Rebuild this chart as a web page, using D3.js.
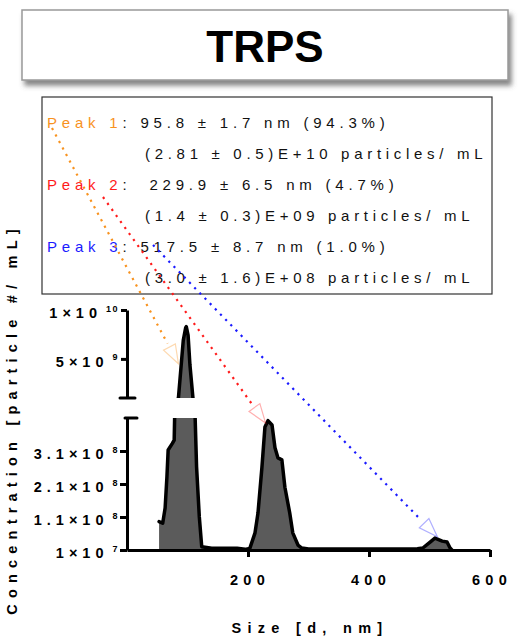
<!DOCTYPE html>
<meta charset="utf-8">
<head>
<style>
  body { margin: 0; background: #fff; }
  text { font-family: "Liberation Sans", Arial, sans-serif; white-space: pre; }
  .bold { font-weight: bold; }
</style>
<script src="https://d3js.org/d3.v7.min.js"></script>
</head>
<div id="chart"></div>
<script>

// size distribution (size in nm, concentration in particles/mL)
var sizeNm = [53, 59, 63, 66, 68, 75, 78, 85, 93, 97, 98, 101, 104, 109, 112, 115, 119.5, 123.5,
              140, 182, 195, 203, 211.6, 216.5, 223, 228, 233, 239.7, 244.6, 249.6, 256, 261, 269,
              274, 282.6, 289, 300, 480, 489, 501, 509, 521, 529, 534, 537];
var concentration = [9.6e7, 9.1e7, 1.37e8, 2.32e8, 3.13e8, 3.33e8, 3.43e8, 1.0e9, 6.9e9, 8.2e9, 8.3e9,
              7.4e9, 4.4e9, 1.0e9, 4.5e8, 2.62e8, 1.11e8, 2.0e7,
              1.5e7, 1.5e7, 1.2e7, 1.5e7, 6.2e7, 1.22e8, 2.6e8, 3.83e8, 4.02e8, 3.89e8, 3.2e8, 2.89e8,
              2.83e8, 2.0e8, 1.22e8, 6.2e7, 2.5e7, 1.6e7, 1.3e7, 1.4e7, 1.6e7, 3.4e7, 4.6e7, 3.7e7,
              3.4e7, 1.6e7, 1e7];

// broken y axis
var upperDomain = [1e9, 1e10];
var lowerDomain = [1e7, 4.1e8];
var upperTicks = [5e9, 1e10];
var upperTickMantissa = ["5×10", "1×10"];
var upperTickExp = ["9", "10"];
var lowerTicks = [1e7, 1.1e8, 2.1e8, 3.1e8];
var lowerTickMantissa = ["1×10", "1.1×10", "2.1×10", "3.1×10"];
var lowerTickExp = ["7", "8", "8", "8"];
var xTicks = [200, 400, 600];

// legend
var peakNames = ["Peak 1", "Peak 2", "Peak 3"];
var peakColors = ["#f8921e", "#ff1a1a", "#1a1aff"];
var peakSizeText = [": 95.8 ± 1.7 nm (94.3%)", ":  229.9 ± 6.5 nm (4.7%)", ": 517.5 ± 8.7 nm (1.0%)"];
var peakConcText = ["(2.81 ± 0.5)E+10 particles/ mL", "(1.4 ± 0.3)E+09 particles/ mL", "(3.0 ± 1.6)E+08 particles/ mL"];
// where each arrow points (size nm, concentration)
var arrowSize = [85, 229, 513];
var arrowConc = [4.5e9, 3.95e8, 5e7];

var data = sizeNm.map(function(s, i) { return {s: s, c: concentration[i]}; });

var svg = d3.select("#chart").append("svg")
    .attr("width", 518)
    .attr("height", 640);

var defs = svg.append("defs");
var shadow = defs.append("filter").attr("id", "shadow")
    .attr("x", "-5%").attr("y", "-20%").attr("width", "115%").attr("height", "160%");
shadow.append("feDropShadow")
    .attr("dx", 3).attr("dy", 5).attr("stdDeviation", 2.5)
    .attr("flood-color", "#555").attr("flood-opacity", 0.7);

// title box
svg.append("rect")
    .attr("x", 22).attr("y", 10).attr("width", 486).attr("height", 70)
    .attr("fill", "#fff").attr("stroke", "#999").attr("stroke-width", 1.5)
    .attr("filter", "url(#shadow)");
svg.append("text")
    .attr("class", "bold")
    .attr("x", 265).attr("y", 62)
    .attr("text-anchor", "middle")
    .style("font-size", "44px")
    .text("TRPS");

// scales
var x = d3.scaleLinear().domain([0, 600]).range([127, 490]);
var yUp = d3.scaleLinear().domain(upperDomain).range([398, 310]);
var yLo = d3.scaleLinear().domain(lowerDomain).range([550, 418]);

defs.append("clipPath").attr("id", "clipUp")
  .append("rect").attr("x", 127).attr("y", 290).attr("width", 380).attr("height", 108);
defs.append("clipPath").attr("id", "clipLo")
  .append("rect").attr("x", 127).attr("y", 418).attr("width", 380).attr("height", 134);

function drawPanel(yScale, clipId) {
    var g = svg.append("g").attr("clip-path", "url(#" + clipId + ")");
    g.append("path")
        .datum(data)
        .attr("fill", "#5b5b5b")
        .attr("d", d3.area()
            .x(function(d) { return x(d.s); })
            .y0(yScale(yScale.domain()[0]))
            .y1(function(d) { return yScale(d.c); }));
    g.append("path")
        .datum(data)
        .attr("fill", "none")
        .attr("stroke", "#000")
        .attr("stroke-width", 3.5)
        .attr("stroke-linejoin", "round")
        .attr("stroke-linecap", "round")
        .attr("d", d3.line()
            .x(function(d) { return x(d.s); })
            .y(function(d) { return yScale(d.c); }));
}
drawPanel(yUp, "clipUp");
drawPanel(yLo, "clipLo");

// axes
function styleAxis(g) {
    g.select(".domain").attr("stroke", "#000").attr("stroke-width", 3);
    g.selectAll(".tick line").attr("stroke", "#000").attr("stroke-width", 3);
}

svg.append("g")
    .attr("transform", "translate(127,0)")
    .call(d3.axisLeft(yUp).tickValues(upperTicks).tickFormat("").tickSize(6).tickSizeOuter(0))
    .call(styleAxis);
svg.append("g")
    .attr("transform", "translate(127,0)")
    .call(d3.axisLeft(yLo).tickValues(lowerTicks).tickFormat("").tickSize(7).tickSizeOuter(0))
    .call(styleAxis);
svg.append("g")
    .attr("transform", "translate(0,550)")
    .call(d3.axisBottom(x).tickValues(xTicks).tickFormat("").tickSize(7).tickSizeOuter(0))
    .call(styleAxis);

// break caps
svg.append("line").attr("x1", 120).attr("x2", 135)
    .attr("y1", yUp(upperDomain[0])).attr("y2", yUp(upperDomain[0]))
    .attr("stroke", "#000").attr("stroke-width", 3).attr("stroke-linecap", "round");
svg.append("line").attr("x1", 125).attr("x2", 137)
    .attr("y1", yLo(lowerDomain[1])).attr("y2", yLo(lowerDomain[1]))
    .attr("stroke", "#000").attr("stroke-width", 3).attr("stroke-linecap", "round");

// y tick labels with superscript exponents
function tickLabels(ticks, mant, exps, yScale) {
    ticks.forEach(function(t, i) {
        var txt = svg.append("text")
            .attr("class", "bold")
            .attr("x", 119)
            .attr("y", yScale(t) + 8)
            .attr("text-anchor", "end")
            .style("font-size", "14.5px")
            .style("letter-spacing", "5px");
        txt.append("tspan").text(mant[i]);
        txt.append("tspan")
            .attr("dx", 4)
            .attr("dy", -6.5)
            .style("font-size", "9px")
            .style("letter-spacing", "1.5px")
            .text(exps[i]);
    });
}
tickLabels(upperTicks, upperTickMantissa, upperTickExp, yUp);
tickLabels(lowerTicks, lowerTickMantissa, lowerTickExp, yLo);

// x tick labels
svg.selectAll(".xlab")
    .data(xTicks)
    .enter().append("text")
    .attr("class", "bold")
    .attr("x", function(d) { return x(d) + 2; })
    .attr("y", 585)
    .attr("text-anchor", "middle")
    .style("font-size", "14.5px")
    .style("letter-spacing", "5.3px")
    .text(function(d) { return d; });

// axis titles
svg.append("text")
    .attr("class", "bold")
    .attr("x", 310).attr("y", 633)
    .attr("text-anchor", "middle")
    .style("font-size", "14.5px")
    .style("letter-spacing", "6.3px")
    .text("Size [d, nm]");
svg.append("text")
    .attr("class", "bold")
    .attr("transform", "translate(17,419) rotate(-90)")
    .attr("text-anchor", "middle")
    .style("font-size", "14.5px")
    .style("letter-spacing", "6.2px")
    .text("Concentration [particle #/ mL]");

// legend box
svg.append("rect")
    .attr("x", 42).attr("y", 97).attr("width", 450).attr("height", 197)
    .attr("fill", "#fff").attr("stroke", "#333").attr("stroke-width", 1.2);

peakNames.forEach(function(name, i) {
    var t1 = svg.append("text")
        .attr("x", 47).attr("y", 128 + i * 62)
        .style("font-size", "15px")
        .style("letter-spacing", "4.8px")
        .attr("fill", "#111");
    t1.append("tspan").attr("fill", peakColors[i]).text(name);
    t1.append("tspan").text(peakSizeText[i]);
    svg.append("text")
        .attr("x", 145).attr("y", 159 + i * 62)
        .style("font-size", "15px")
        .style("letter-spacing", "4.7px")
        .attr("fill", "#111")
        .text(peakConcText[i]);
});

// dotted arrows from the legend to the peaks
var arrowStart = [[52, 128], [103, 197], [153, 245]];
var arrowScale = [yUp, yLo, yLo];
arrowSize.forEach(function(s, i) {
    var tip = [x(s), arrowScale[i](arrowConc[i])];
    var st = arrowStart[i];
    var dx = tip[0] - st[0], dy = tip[1] - st[1];
    var len = Math.sqrt(dx * dx + dy * dy);
    var ux = dx / len, uy = dy / len;
    var L = 19, w = 6.7;
    var bx = tip[0] - ux * L, by = tip[1] - uy * L;
    svg.append("line")
        .attr("x1", st[0]).attr("y1", st[1])
        .attr("x2", bx - ux * 4).attr("y2", by - uy * 4)
        .attr("stroke", peakColors[i])
        .attr("stroke-width", 2.2)
        .attr("stroke-dasharray", "2.2,5.2");
    svg.append("path")
        .attr("d", "M" + tip[0] + "," + tip[1] +
                   "L" + (bx - uy * w) + "," + (by + ux * w) +
                   "L" + (bx + uy * w) + "," + (by - ux * w) + "Z")
        .attr("fill", "none")
        .attr("stroke", peakColors[i])
        .attr("stroke-opacity", 0.35)
        .attr("stroke-width", 1.2);
});

</script>
